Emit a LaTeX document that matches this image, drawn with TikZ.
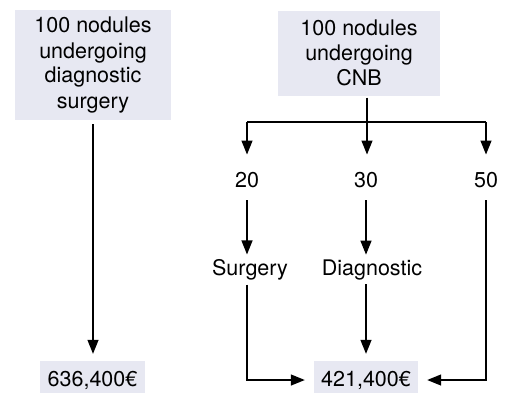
\documentclass[tikz,border=0pt]{standalone}
\usepackage{fontspec}
\setmainfont{TeX Gyre Heros}
\usetikzlibrary{arrows.meta,calc}
\definecolor{boxfill}{RGB}{231,232,242}
\begin{document}
\begin{tikzpicture}[x=1pt,y=-1pt,
  every node/.style={font=\fontsize{21.5}{25}\selectfont, inner sep=0pt},
  greybox/.style={fill=boxfill, align=center},
  arr/.style={line width=1.3pt, -{Triangle[length=14pt,width=11pt]}},
  ln/.style={line width=1.3pt}]
\useasboundingbox (0,0) rectangle (505,392);
\clip (0,0) rectangle (505,392);
% nodes
\node[greybox, minimum width=156pt, minimum height=110pt] (lbox) at (93,65) {100 nodules\\undergoing\\diagnostic\\surgery};
\node[greybox, minimum width=162pt, minimum height=85pt] (rbox) at (359,53) {100 nodules\\undergoing\\CNB};
\node[greybox, minimum width=105pt, minimum height=38pt] (lres) at (92.5,380) {636,400€};
\node[greybox, minimum width=104pt, minimum height=38pt] (rres) at (366,380) {421,400€};
\node (n20) at (247,180) {20};
\node (n30) at (366,180) {30};
\node (n50) at (486,180) {50};
\node (surg) at (250,270) {Surgery};
\node (diag) at (372,270) {Diagnostic};
% connectors
\coordinate (split) at (367,122);
\coordinate (stop) at ($(split |- rbox.south)+(0,2)$);
\draw[arr, shorten <=4pt, shorten >=7pt] (lbox.south) -- (lbox.south |- lres.north);
\draw[arr, shorten >=17.5pt] (stop) -- (stop |- n30.north);
\draw[ln] (split -| n20) -- (split -| n50);
\draw[arr, shorten >=17.5pt] (split -| n20) -- (n20.north);
\draw[arr, shorten >=17.5pt] (split -| n50) -- (n50.north);
\draw[arr, shorten <=12.5pt, shorten >=5pt] (n20.south) -- (n20.south |- surg.north);
\draw[arr, shorten <=12.5pt, shorten >=5pt] (n30.south) -- (n30.south |- diag.north);
\draw[arr, shorten <=4pt, shorten >=9pt] (surg.south -| n20) |- (rres.west);
\draw[arr, shorten <=4pt, shorten >=7pt] (diag.south -| n30) -- (rres.north);
\draw[arr, shorten <=12.5pt, shorten >=9pt] (n50.south) |- (rres.east);
\end{tikzpicture}
\end{document}
